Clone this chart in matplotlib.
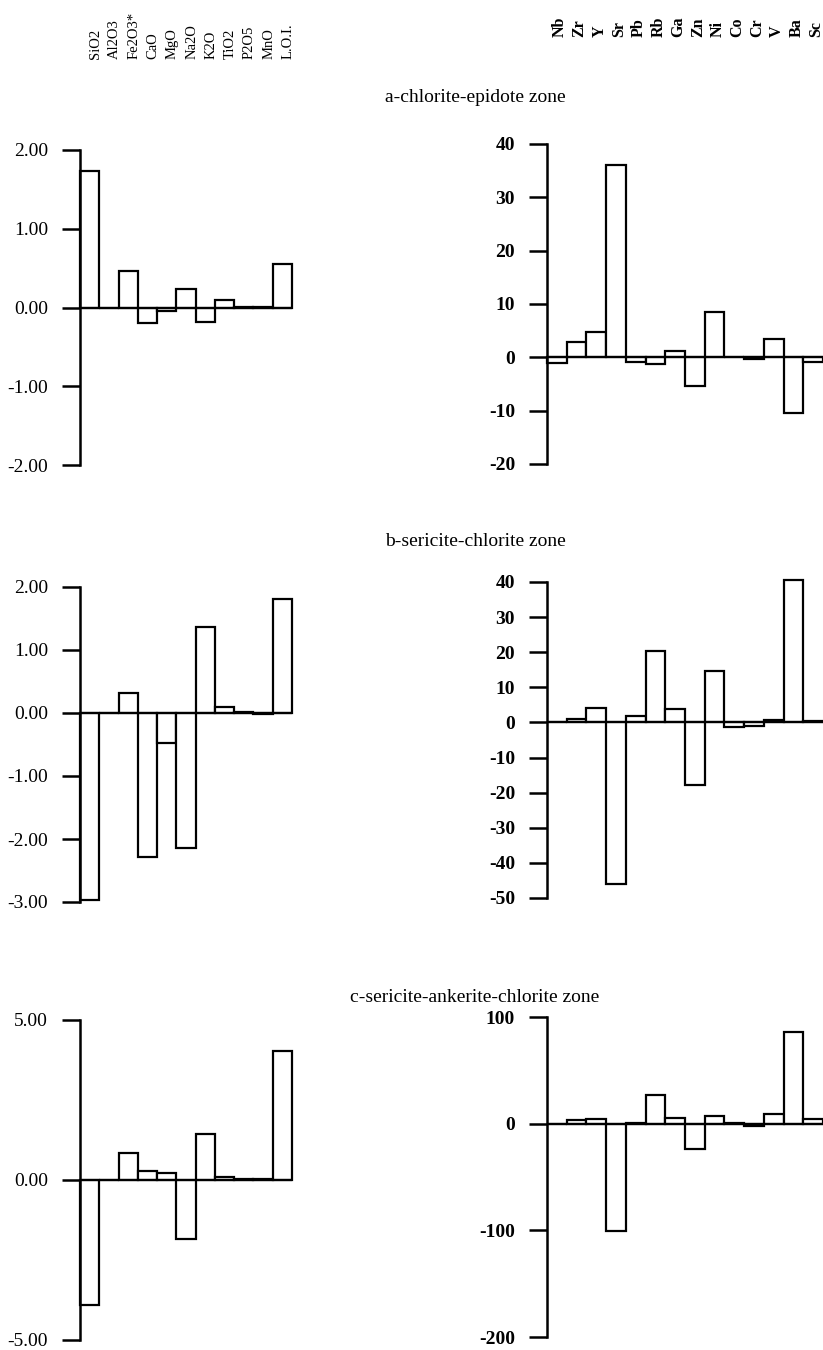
import matplotlib
matplotlib.use('Agg')
import matplotlib.pyplot as plt
import matplotlib.transforms as mtransforms

plt.rcParams['font.family'] = ['Liberation Serif', 'DejaVu Serif']

oxides = ['SiO2', 'Al2O3', 'Fe2O3*', 'CaO', 'MgO', 'Na2O', 'K2O', 'TiO2', 'P2O5', 'MnO', 'L.O.I.']
elements = ['Nb', 'Zr', 'Y', 'Sr', 'Pb', 'Rb', 'Ga', 'Zn', 'Ni', 'Co', 'Cr', 'V', 'Ba', 'Sc']
zones = ['a-chlorite-epidote zone', 'b-sericite-chlorite zone', 'c-sericite-ankerite-chlorite zone']

# gains / losses, major oxides (wt%)
oxide_a = [1.73, 0.0, 0.46, -0.20, -0.05, 0.24, -0.19, 0.09, 0.01, 0.01, 0.55]
oxide_b = [-2.97, 0.0, 0.32, -2.28, -0.47, -2.14, 1.37, 0.09, 0.01, -0.01, 1.81]
oxide_c = [-3.90, 0.0, 0.84, 0.28, 0.22, -1.85, 1.43, 0.10, 0.03, 0.03, 4.03]

# gains / losses, trace elements (ppm)
trace_a = [-1.0, 2.8, 4.7, 36.0, -0.8, -1.2, 1.2, -5.3, 8.5, 0.0, -0.3, 3.4, -10.5, -0.8]
trace_b = [0.2, 1.1, 4.0, -46.0, 1.7, 20.4, 3.9, -17.8, 14.6, -1.4, -1.1, 0.6, 40.5, 0.3]
trace_c = [0.0, 3.5, 4.5, -101.0, 0.5, 27.0, 5.5, -24.0, 7.5, 0.5, -2.5, 9.5, 86.0, 4.5]

oxide_ticks = [[2, 1, 0, -1, -2], [2, 1, 0, -1, -2, -3], [5, 0, -5]]
oxide_ticklabels = [['2.00', '1.00', '0.00', '-1.00', '-2.00'],
                    ['2.00', '1.00', '0.00', '-1.00', '-2.00', '-3.00'],
                    ['5.00', '0.00', '-5.00']]
trace_ticks = [[40, 30, 20, 10, 0, -10, -20],
               [40, 30, 20, 10, 0, -10, -20, -30, -40, -50],
               [100, 0, -100, -200]]

W, H = 823, 1350
fig = plt.figure(figsize=(W / 100, H / 100), dpi=100)


def px_axes(x0, x1, ytop, ybot):
    return fig.add_axes([x0 / W, 1 - ybot / H, (x1 - x0) / W, (ybot - ytop) / H])


def draw_panel(ax, vals, ticks, labels, bold=False):
    n = len(vals)
    bars = ax.bar(range(n), vals, width=1.0, color='white', edgecolor='black', linewidth=1.6, zorder=2)
    for b in bars:
        b.set_clip_on(False)
    ax.axhline(0, color='black', linewidth=1.6, zorder=3)
    ax.set_xlim(-0.5, n - 0.5)
    ax.set_ylim(min(ticks), max(ticks))
    ax.set_yticks(ticks)
    ax.set_yticklabels(labels, fontsize=14, fontweight='bold' if bold else 'normal')
    ax.set_xticks([])
    for s in ['top', 'right', 'bottom']:
        ax.spines[s].set_visible(False)
    ax.spines['left'].set_linewidth(1.8)
    ax.spines['left'].set_zorder(4)
    ax.tick_params(axis='y', direction='out', length=13, width=1.8, pad=10)
    ax.patch.set_alpha(0)


left_rows = [(150, 465), (587, 902), (1020, 1340)]
right_rows = [(144, 464), (582, 898), (1017, 1337)]
title_y = [98, 541, 998]
oxide_data = [oxide_a, oxide_b, oxide_c]
trace_data = [trace_a, trace_b, trace_c]

axes_l, axes_r = [], []
for k in range(3):
    axl = px_axes(80, 292, *left_rows[k])
    draw_panel(axl, oxide_data[k], oxide_ticks[k], oxide_ticklabels[k])
    axr = px_axes(547, 823, *right_rows[k])
    draw_panel(axr, trace_data[k], trace_ticks[k], [str(t) for t in trace_ticks[k]], bold=True)
    axes_l.append(axl)
    axes_r.append(axr)
    fig.text(475 / W, 1 - title_y[k] / H, zones[k], ha='center', va='center', fontsize=14)

# column labels at the top of the page
trl = mtransforms.blended_transform_factory(axes_l[0].transData, fig.transFigure)
for i, name in enumerate(oxides):
    fig.text(i + 0.3, 1 - 59 / H, name, transform=trl, rotation=90,
             ha='center', va='bottom', fontsize=10.5)
trr = mtransforms.blended_transform_factory(axes_r[0].transData, fig.transFigure)
for i, name in enumerate(elements):
    fig.text(i + 0.15, 1 - 37 / H, name, transform=trr, rotation=90,
             ha='center', va='bottom', fontsize=11.5, fontweight='bold')

fig.savefig('out.png', dpi=100)
